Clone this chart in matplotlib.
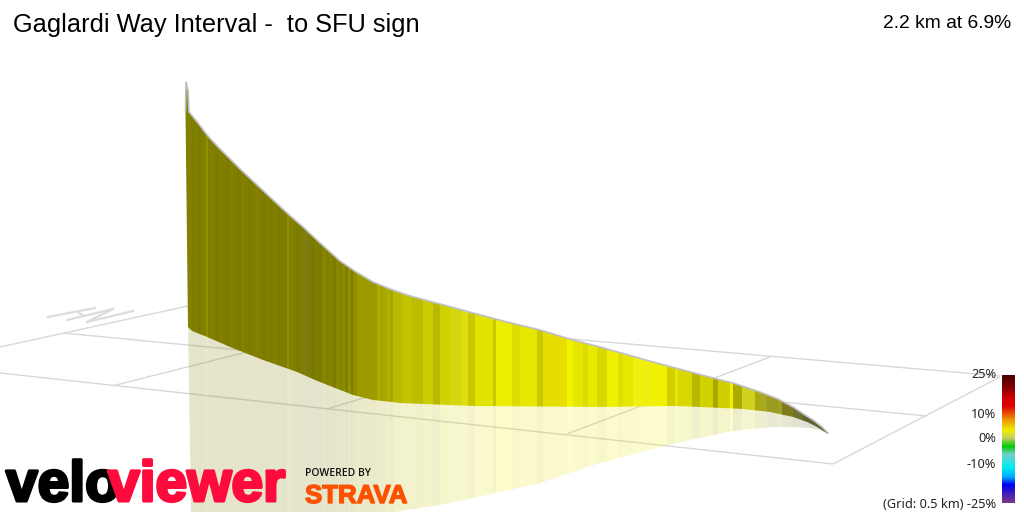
#VeloViewer style 3D climb profile, everything placed in image pixels

import matplotlib
matplotlib.use('Agg')
import matplotlib.pyplot as plt
import matplotlib.patheffects as pe
from matplotlib.colors import LinearSegmentedColormap
from matplotlib.patches import Polygon
import numpy as np

title = 'Gaglardi Way Interval -  to SFU sign'
summary = '2.2 km at 6.9%'

#outline of the wall
top_x = [185.5, 186, 188, 188.5, 189, 198, 207, 217, 228, 242, 257, 272, 287, 303, 320, 340, 356, 373, 390, 407, 425, 440, 473, 507, 540, 573, 600, 653, 713, 733, 760, 778, 793, 805, 813, 822, 828]
top_y = [110, 82, 90, 100, 112, 123, 135, 146, 157, 171, 185, 199, 213, 227, 243, 261, 272, 282, 289, 295, 300, 304, 313, 322, 330, 340, 347, 362, 378, 383, 392, 399, 407, 415, 420, 427, 433]
base_x = [188, 192, 207, 230, 263, 297, 315, 330, 353, 373, 400, 423, 473, 600, 677, 743, 770, 793, 807, 817, 828]
base_y = [327, 331, 337, 347, 360, 372, 380, 386, 395, 400, 403, 404, 406, 407, 406, 409, 412, 417, 422, 427, 434]
shadow_x = [828, 820, 810, 790, 773, 750, 727, 695, 660, 630, 600, 570, 540, 505, 473, 440, 407, 395, 191]
shadow_y = [434, 430, 428, 427, 427, 429, 432, 439, 447, 455, 463, 473, 483, 491, 498, 505, 510, 512, 512]

#gradient strips: left edges and colours, one strip for each run of road
strip_x = [185, 188, 191, 194, 198, 202, 206, 208, 212, 215, 219, 222, 226, 230, 233, 237, 241, 244, 248, 252, 255, 259, 262, 266, 270, 273, 277, 281, 284, 287, 289, 293, 296, 300, 304, 307, 311, 315, 318, 322, 326, 329, 333, 336, 340,
           343, 345, 348, 351, 353, 357, 377, 380, 383, 387, 390, 393, 402, 412, 423, 433, 440, 450, 462, 468, 475, 493, 496, 512, 520, 537, 543, 560, 567, 573, 583, 588, 597, 607, 618, 623, 633, 653, 667, 675, 678, 692,
           700, 713, 718, 730, 733, 742, 755, 760, 767, 777, 782, 793, 803]
strip_color = ['#7f7f00', '#828200', '#7e7e00', '#808000', '#7c7c00', '#818100', '#909000', '#7f7f00', '#828000', '#7e7c00', '#838000', '#807d00', '#7d7c00', '#848000', '#807e00', '#7c7b00', '#837f00', '#807e00', '#7d7b00', '#7f7e00', '#858000', '#807d00', '#7c7b00', '#827f00', '#7e7c00', '#838000', '#7d7c00', '#7f7e00', '#7c7c00', '#8e8e00', '#828200', '#7f7f00', '#7b7b02', '#7d7d06', '#807e10', '#7c7c08', '#7a7a00', '#807e00', '#7b7b00', '#868400', '#7e7e00', '#838300', '#7b7b00', '#888800', '#848400',
               '#8e8e00', '#7f7f00', '#909000', '#7d7d00', '#8f8f00', '#9b9b00', '#adad00', '#a4a400', '#a8a800', '#b0b000', '#a4a400', '#b9b900', '#c2c200', '#bdbd00', '#cccc00', '#b8b800', '#d2d200', '#d5d510', '#dede10', '#c8c800', '#e3e300', '#c8c800', '#eded00', '#dcdc00', '#e6e600', '#c9c900', '#e6de00', '#e8de00', '#f3f300', '#e6e600', '#dcdc00', '#e8e800', '#d8d800', '#efef00', '#dede00', '#e6e600', '#efef10', '#f0f000', '#d0d000', '#e6e600', '#d8d800', '#b8b800',
               '#d2d200', '#a8a800', '#d0d000', '#f0f000', '#aaaa00', '#d0d020', '#aaaa10', '#a8a820', '#9a9a20', '#a0a020', '#7d7d20', '#707030', '#606030']
strip_end = 829

#ground grid
grid_from = [(0, 347), (63, 333), (188, 306), (0, 373), (833, 464), (112, 386), (327, 409), (567, 434)]
grid_to = [(188, 306), (927, 416), (1000, 376), (833, 464), (1000, 377), (370, 321), (564, 338), (770, 357)]

#small north marker on the ground
north_from = [(48, 317), (67, 320), (87, 322), (79, 313), (87, 322)]
north_to = [(95, 308), (113, 309), (133, 311), (84, 316), (113, 309)]

#colour scale
scale_pos = [0.0, 0.09, 0.18, 0.24, 0.35, 0.43, 0.49, 0.56, 0.62, 0.72, 0.80, 0.86, 1.0]
scale_colors = ['#4d0000', '#800000', '#d60000', '#e00000', '#ee9900', '#eeee00', '#cccc66', '#00cc00', '#77cccc', '#00eeee', '#00aaff', '#0000ee', '#7a3a8a']
scale_labels = ['25%', '10%', '0%', '-10%', '(Grid: 0.5 km) -25%']
scale_label_y = [375, 414, 439, 465, 504]

fig = plt.figure(figsize=(10.24, 5.12), dpi=100)
ax = fig.add_axes([0, 0, 1, 1])
ax.set_xlim(0, 1024)
ax.set_ylim(512, 0)
ax.axis('off')

#grid lines first, the wall hides them
for a, b in zip(grid_from, grid_to):
    ax.plot([a[0], b[0]], [a[1], b[1]], color='#d8d8d8', lw=1.0, zorder=1, solid_capstyle='butt')
for a, b in zip(north_from, north_to):
    ax.plot([a[0], b[0]], [a[1], b[1]], color='#dcdcdc', lw=1.6, zorder=1)

#wall and reflection share the strips, only the clip shape changes
wall = Polygon(list(zip(top_x, top_y)) + list(zip(base_x, base_y))[::-1], closed=True, transform=ax.transData)
shadow = Polygon(list(zip(base_x, base_y)) + list(zip(shadow_x, shadow_y))[1:], closed=True, transform=ax.transData)
widths = np.diff(strip_x + [strip_end])

bars = ax.bar(strip_x, 512, width=widths, bottom=0, align='edge', color=strip_color, linewidth=0, zorder=3)
for bar in bars:
    bar.set_clip_path(wall)
    bar.set_antialiased(False)

bars = ax.bar(strip_x, 512, width=widths, bottom=0, align='edge', color=strip_color, alpha=0.2, linewidth=0, zorder=2)
for bar in bars:
    bar.set_clip_path(shadow)
    bar.set_antialiased(False)

ax.plot(top_x, top_y, color='#c0c0c6', lw=1.2, zorder=4)

#colour bar
scale = LinearSegmentedColormap.from_list('grade', list(zip(scale_pos, scale_colors)))
ax.imshow(np.linspace(0, 1, 128).reshape(-1, 1), cmap=scale, extent=(1002, 1015, 503, 375), aspect='auto', zorder=5)
ax.set_xlim(0, 1024)
ax.set_ylim(512, 0)

for label, y in zip(scale_labels, scale_label_y):
    ax.text(996, y, label, ha='right', va='center', fontsize=9.2, family='Noto Sans', color='#222222', zorder=6)

ax.text(13, 25, title, ha='left', va='center', fontsize=18.3, family='Liberation Sans', color='black', zorder=6)
ax.text(1011, 23, summary, ha='right', va='center', fontsize=13.9, family='Liberation Sans', color='black', zorder=6)

#logo
ax.text(6, 501, 'velo', fontsize=41, family='Liberation Sans', weight='bold', color='black', ha='left', va='baseline',
        path_effects=[pe.withStroke(linewidth=2.2, foreground='black')], zorder=7)
ax.text(108, 501, 'viewer', fontsize=41, family='Liberation Sans', weight='bold', color='#ff0a3c', ha='left', va='baseline',
        path_effects=[pe.withStroke(linewidth=2.2, foreground='#ff0a3c')], zorder=8)

ax.text(305, 473, 'POWERED BY', fontsize=7.5, family='Open Sans', weight='semibold', color='#111111', ha='left', va='center', zorder=7)
ax.text(305, 503, 'STRAVA', fontsize=18.6, family='Liberation Sans', weight='bold', color='#fc5200', ha='left', va='baseline',
        path_effects=[pe.withStroke(linewidth=1.0, foreground='#fc5200')], zorder=7)

fig.savefig('out.png', dpi=100)
